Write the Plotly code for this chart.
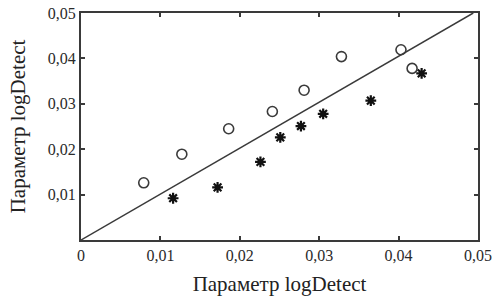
import plotly.graph_objects as go

open_x = [0.0079, 0.0127, 0.0186, 0.0241, 0.0281, 0.0328, 0.0403, 0.0417]
open_y = [0.0126, 0.0189, 0.0245, 0.0283, 0.0330, 0.0404, 0.0419, 0.0378]
star_x = [0.0116, 0.0172, 0.0226, 0.0251, 0.0277, 0.0305, 0.0365, 0.0429]
star_y = [0.0092, 0.0116, 0.0172, 0.0226, 0.0251, 0.0278, 0.0307, 0.0367]
line_x = [0.0, 0.0494]
line_y = [0.0, 0.05]
tick_vals = [0, 0.01, 0.02, 0.03, 0.04, 0.05]
tick_text = ["0", "0,01", "0,02", "0,03", "0,04", "0,05"]
y_tick_vals = [0.01, 0.02, 0.03, 0.04, 0.05]
y_tick_text = ["0,01", "0,02", "0,03", "0,04", "0,05"]
axis_title = "Параметр logDetect"

fig = go.Figure()
fig.add_trace(go.Scatter(x=line_x, y=line_y, mode="lines",
                         line=dict(color="#3a3a3a", width=1.5), showlegend=False))
fig.add_trace(go.Scatter(x=open_x, y=open_y, mode="markers",
                         marker=dict(symbol="circle-open", size=10, color="#3a3a3a",
                                     line=dict(color="#3a3a3a", width=1.6)),
                         showlegend=False))
fig.add_trace(go.Scatter(x=star_x, y=star_y, mode="markers",
                         marker=dict(symbol="asterisk-open", size=9, color="#111111",
                                     line=dict(color="#111111", width=2.2)),
                         showlegend=False))
fig.add_trace(go.Scatter(x=star_x, y=star_y, mode="markers",
                         marker=dict(symbol="circle", size=4, color="#111111"),
                         showlegend=False))

family = "Liberation Serif, Times New Roman, serif"
font = dict(family=family, size=16, color="#2a2a2a")
title_font = dict(family=family, size=21, color="#222222")
axis_common = dict(showline=True, linecolor="#3a3a3a", linewidth=2, mirror="ticks",
                   ticks="inside", ticklen=4, tickwidth=1.5, tickcolor="#3a3a3a",
                   showgrid=False, zeroline=False, tickfont=font, automargin=False)

fig.update_xaxes(range=[0, 0.05], tickvals=tick_vals, ticktext=tick_text,
                 title=dict(text=axis_title, font=title_font, standoff=13),
                 **axis_common)
fig.update_yaxes(range=[0, 0.05], tickvals=y_tick_vals, ticktext=y_tick_text,
                 title=dict(text=axis_title, font=title_font, standoff=16),
                 **axis_common)

fig.update_layout(width=497, height=306, margin=dict(l=81, r=19, t=13, b=66),
                  plot_bgcolor="white", paper_bgcolor="white", separators=", ")
fig.write_html("out.html", config={"displayModeBar": False},
               post_script="document.body.style.margin='0';document.body.style.overflow='hidden';")
